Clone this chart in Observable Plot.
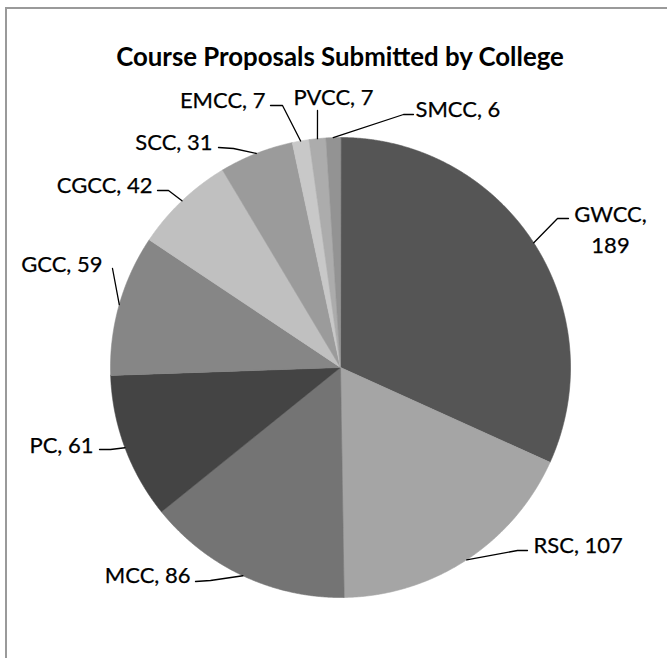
<!DOCTYPE html>
<html>
<head>
<meta charset="utf-8">
<script src="https://cdn.jsdelivr.net/npm/d3@7"></script>
<script src="https://cdn.jsdelivr.net/npm/@observablehq/plot@0.6"></script>
<style>
  html, body { margin: 0; padding: 0; background: #fff; overflow: hidden; width: 667px; height: 658px; }
  #chart { position: relative; width: 667px; height: 658px; overflow: hidden; }
  #chart svg { position: absolute; left: 0; top: 0; }
  #bl { position: absolute; left: 5px; top: 7px; width: 2px; height: 700px; background: #9a9a9a; }
  #bt { position: absolute; left: 5px; top: 7px; width: 700px; height: 2px; background: #9a9a9a; }
</style>
</head>
<body>
<div id="chart"><div id="bl"></div><div id="bt"></div></div>
<script>
// ---- data ----
const colleges = ["GWCC", "RSC", "MCC", "PC", "GCC", "CGCC", "SCC", "EMCC", "PVCC", "SMCC"];
const proposals = [189, 107, 86, 61, 59, 42, 31, 7, 7, 6];
const titleText = "Course Proposals Submitted by College";

// ---- style ----
const sliceColors = ["#555555", "#a5a5a5", "#747474", "#444444", "#868686",
                     "#c0c0c0", "#9b9b9b", "#c8c8c8", "#acacac", "#939393"];

// label layout (elbow / horizontal end / text anchor offsets, px from pie centre, y up)
const labelLayout = {
  GWCC: {e: [217, 149],  h: [228, 149],  t: [270, 139.5], anchor: "middle", text: "GWCC,\n189"},
  RSC:  {e: [177, -183], h: [187, -183], t: [193, -176],  anchor: "start"},
  MCC:  {e: [-130, -213], h: [-145, -214], t: [-150, -206], anchor: "end"},
  PC:   {e: [-230, -82], h: [-241, -82], t: [-247, -76],  anchor: "end"},
  GCC:  {e: [-228, 99],  h: [-228, 99],  t: [-238, 105],  anchor: "end"},
  CGCC: {e: [-172, 177], h: [-183, 177], t: [-188, 184],  anchor: "end"},
  SCC:  {e: [-107, 219], h: [-122, 220], t: [-128, 227],  anchor: "end"},
  EMCC: {e: [-58, 262],  h: [-70, 262],  t: [-75, 269],   anchor: "end"},
  PVCC: {e: [-23, 257],  h: [-23, 257],  t: [-7, 272],    anchor: "middle"},
  SMCC: {e: [63, 253],   h: [73, 253],   t: [75, 260],    anchor: "start"}
};

const W = 667, H = 658, R = 230, CX = 340, CY = 367;

const rows = colleges.map((name, i) => ({name, value: proposals[i], color: sliceColors[i]}));
const arcs = d3.pie().value(d => d.value).sort(null)(rows);

// slice polygons
const slicePts = [];
arcs.forEach(a => {
  slicePts.push({name: a.data.name, color: a.data.color, x: 0, y: 0});
  const n = Math.max(2, Math.ceil((a.endAngle - a.startAngle) / (Math.PI / 720)));
  for (let i = 0; i <= n; i++) {
    const t = a.startAngle + (a.endAngle - a.startAngle) * i / n;
    slicePts.push({name: a.data.name, color: a.data.color, x: R * Math.sin(t), y: R * Math.cos(t)});
  }
});

// leader lines and labels
const leaderPts = [];
const labels = [];
arcs.forEach(a => {
  const L = labelLayout[a.data.name];
  const m = (a.startAngle + a.endAngle) / 2;
  leaderPts.push({name: a.data.name, x: R * Math.sin(m), y: R * Math.cos(m)});
  leaderPts.push({name: a.data.name, x: L.e[0], y: L.e[1]});
  leaderPts.push({name: a.data.name, x: L.h[0], y: L.h[1]});
  labels.push({x: L.t[0], y: L.t[1], anchor: L.anchor,
               text: L.text ?? `${a.data.name}, ${a.data.value}`});
});

const labelFont = 22;
const textMark = anchor => Plot.text(labels.filter(d => d.anchor === anchor), {
  x: "x", y: "y", text: "text", textAnchor: anchor, fontSize: labelFont,
  lineHeight: 1.4, fill: "#000", stroke: "#000", strokeWidth: 0.25
});

const chart = Plot.plot({
  width: W, height: H,
  margin: 0,
  x: {domain: [-CX, W - CX], axis: null},
  y: {domain: [-(H - CY), CY], axis: null},
  style: {fontFamily: "Lato, 'Open Sans', sans-serif", background: "transparent"},
  marks: [
    Plot.line(slicePts, {x: "x", y: "y", z: "name", fill: "color", stroke: "color",
                          strokeWidth: 0.6, curve: "linear-closed"}),
    Plot.line(leaderPts, {x: "x", y: "y", z: "name", stroke: "#000", strokeWidth: 1.3}),
    textMark("start"), textMark("middle"), textMark("end"),
    Plot.text([titleText], {frameAnchor: "top", lineAnchor: "middle", dy: 57, dx: 6,
                            fontSize: 25.8, fontWeight: "bold", fill: "#000"})
  ]
});
document.getElementById("chart").appendChild(chart);
</script>
</body>
</html>
